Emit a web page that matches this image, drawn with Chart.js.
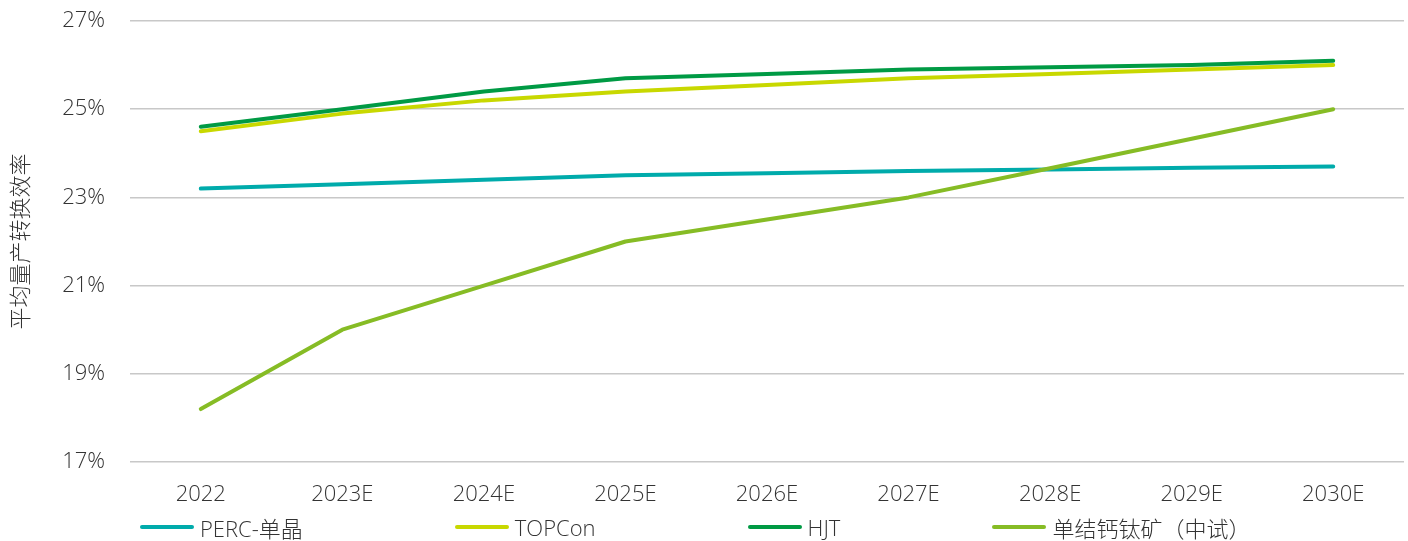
<!DOCTYPE html>
<html lang="zh-CN">
<head>
<meta charset="utf-8">
<title>平均量产转换效率</title>
<script src="https://cdn.jsdelivr.net/npm/chart.js@4/dist/chart.umd.min.js"></script>
<style>
  html, body { margin: 0; padding: 0; background: #fff; }
  #wrap { position: relative; width: 1408px; height: 541px; }
  #chart { position: absolute; left: 0; top: 0; }
  #legend {
    position: absolute; left: 140px; top: 512px; height: 30px;
    display: flex; align-items: center; gap: 152px;
    font-family: "Open Sans", "Noto Sans CJK SC", sans-serif;
    font-size: 22px; font-weight: 300; color: #333;
  }
  .item { display: flex; align-items: center; white-space: nowrap; }
  .swatch { width: 54px; height: 4px; border-radius: 2px; margin-right: 6px; }
</style>
</head>
<body>
<div id="wrap">
  <canvas id="chart" width="1408" height="541"></canvas>
  <div id="legend"></div>
</div>
<script>
// Years on the category axis
const years = ['2022', '2023E', '2024E', '2025E', '2026E', '2027E', '2028E', '2029E', '2030E'];

// Average mass-production conversion efficiency (%) per cell technology
const perc       = [23.2, 23.3, 23.4, 23.5, 23.55, 23.6, 23.63, 23.67, 23.7];
const topcon     = [24.5, 24.9, 25.2, 25.4, 25.55, 25.7, 25.8, 25.9, 26.0];
const hjt        = [24.6, 25.0, 25.4, 25.7, 25.8, 25.9, 25.95, 26.0, 26.1];
const perovskite = [18.2, 20.0, 21.0, 22.0, 22.5, 23.0, 23.66, 24.33, 25.0];

// Series names and colours
const seriesNames  = ['PERC-单晶', 'TOPCon', 'HJT', '单结钙钛矿（中试）'];
const seriesColors = ['#00ABAB', '#C8D800', '#009A44', '#86BC25'];

// Value axis
const yMin = 17, yMax = 27, yStep = 2;
const yTitle = '平均量产转换效率';

const seriesData = [perc, topcon, hjt, perovskite];
const FONT = '"Open Sans", "Noto Sans CJK SC", sans-serif';
const TEXT = '#333333';

const datasets = seriesData.map((values, i) => ({
  label: seriesNames[i],
  data: values,
  borderColor: seriesColors[i],
  backgroundColor: seriesColors[i],
  borderWidth: 4,
  borderCapStyle: 'round',
  borderJoinStyle: 'round',
  pointRadius: 0,
  pointHoverRadius: 0,
  tension: 0,
  order: seriesData.length - i
}));

new Chart(document.getElementById('chart'), {
  type: 'line',
  data: { labels: years, datasets },
  options: {
    responsive: false,
    animation: false,
    events: [],
    layout: { padding: { top: 21, right: 4, left: 0, bottom: 0 } },
    plugins: { legend: { display: false }, tooltip: { enabled: false } },
    scales: {
      x: {
        offset: true,
        grid: { display: false },
        border: { display: false },
        ticks: {
          color: TEXT, padding: 12, maxRotation: 0, autoSkip: false,
          font: { family: FONT, size: 22, weight: 300 }
        },
        afterFit(scale) { scale.height = 79; }
      },
      y: {
        min: yMin, max: yMax,
        grid: { color: '#C8C8C8', lineWidth: 1.4, drawTicks: false },
        border: { display: false },
        ticks: {
          stepSize: yStep, padding: 25, color: TEXT,
          font: { family: FONT, size: 22, weight: 300 },
          callback: v => v + '%'
        },
        title: {
          display: true, text: yTitle, color: TEXT,
          padding: { top: 9, bottom: 0 },
          font: { family: FONT, size: 22, weight: 300 }
        },
        afterFit(scale) {
          scale.width = 130;
          // keep the label gap from pushing the plot area down
          scale.paddingTop = 0;
          scale.paddingBottom = 0;
        }
      }
    }
  }
});

// Legend row built from the series names and colours
const legend = document.getElementById('legend');
seriesNames.forEach((name, i) => {
  const item = document.createElement('div');
  item.className = 'item';
  const sw = document.createElement('span');
  sw.className = 'swatch';
  sw.style.background = seriesColors[i];
  const txt = document.createElement('span');
  txt.textContent = name;
  item.appendChild(sw);
  item.appendChild(txt);
  legend.appendChild(item);
});
</script>
</body>
</html>
